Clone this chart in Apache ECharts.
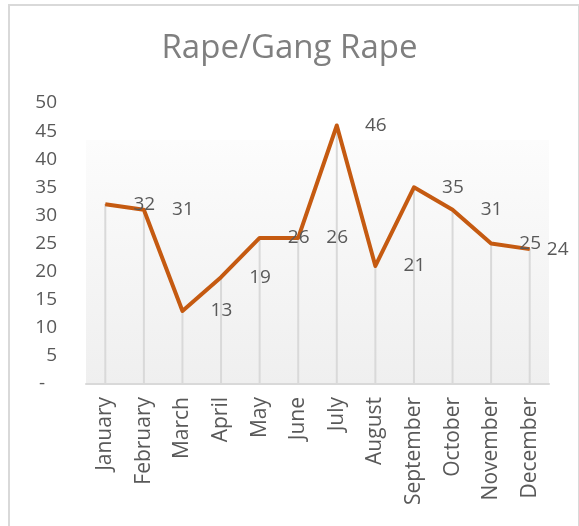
<!DOCTYPE html>
<html lang="en" style="background: #fff;height: 100%">
<head>
    <meta charset="utf-8"/>
    <title>Rape/Gang Rape</title>
    <script type="text/javascript" src="https://cdn.jsdelivr.net/npm/echarts@6/dist/echarts.min.js"></script>
</head>
<body style="margin: 0;height: 100%">
<div id="chart" style="position: absolute;left: 0;top: 0;width: 579px;height: 526px"></div>
<div style="position: absolute;left: 8px;top: 4px;width: 568px;height: 540px;border: 2px solid #d9d9d9;pointer-events: none"></div>
<script>
    // data
    const MONTHS = ['January', 'February', 'March', 'April', 'May', 'June',
        'July', 'August', 'September', 'October', 'November', 'December'];
    const CASES = [32, 31, 13, 19, 26, 26, 46, 21, 35, 31, 25, 24];
    const Y_TICKS = [0, 5, 10, 15, 20, 25, 30, 35, 40, 45, 50];

    window.onload = function () {
        let chart = echarts.init(document.getElementById('chart'));
        const font = '"Open Sans", sans-serif';

        // labels sit one category to the right, last one squeezed in
        let lineData = CASES.map(function (v, i) {
            if (i === CASES.length - 1) {
                return {value: v, label: {offset: [28, 0]}};
            }
            return v;
        });

        chart.setOption({
            animation: false,
            title: {
                text: 'Rape/Gang Rape',
                left: 'center',
                top: 27,
                textStyle: {fontFamily: font, fontSize: 33, fontWeight: 'normal', color: '#7f7f7f'}
            },
            grid: {
                left: 86, right: 30, top: 103, bottom: 142,
                show: true,
                borderWidth: 0,
                backgroundColor: {
                    type: 'linear', x: 0, y: 0, x2: 0, y2: 1,
                    colorStops: [
                        {offset: 0, color: '#ffffff'},
                        {offset: 0.13, color: '#ffffff'},
                        {offset: 0.132, color: '#fcfcfc'},
                        {offset: 1, color: '#efefef'}
                    ]
                }
            },
            xAxis: {
                type: 'category',
                data: MONTHS,
                boundaryGap: true,
                axisLine: {lineStyle: {color: '#d9d9d9', width: 2}},
                axisTick: {show: false},
                axisLabel: {
                    rotate: 90, margin: 13, interval: 0,
                    fontFamily: font, fontSize: 21, color: '#595959'
                }
            },
            yAxis: {
                type: 'value',
                min: Y_TICKS[0],
                max: Y_TICKS[Y_TICKS.length - 1],
                interval: 5,
                axisLine: {show: false},
                axisTick: {show: false},
                splitLine: {show: false},
                axisLabel: {
                    margin: 29,
                    fontFamily: font, fontSize: 19, color: '#595959',
                    formatter: function (v) {
                        return v === 0 ? '{dash|-}' : String(v);
                    },
                    rich: {
                        dash: {fontFamily: font, fontSize: 19, color: '#595959', padding: [0, 12, 0, 0]}
                    }
                }
            },
            series: [
                {
                    // drop lines
                    type: 'bar',
                    data: CASES,
                    barWidth: 2,
                    itemStyle: {color: '#d9d9d9'},
                    z: 1,
                    silent: true
                },
                {
                    type: 'line',
                    data: lineData,
                    symbol: 'circle',
                    symbolSize: 1,
                    itemStyle: {color: '#c55a11'},
                    lineStyle: {color: '#c55a11', width: 4, join: 'round'},
                    z: 3,
                    label: {
                        show: true,
                        position: 'inside',
                        offset: [39, 0],
                        fontFamily: font, fontSize: 19, color: '#595959'
                    }
                }
            ]
        });
    }
</script>
</body>
</html>
